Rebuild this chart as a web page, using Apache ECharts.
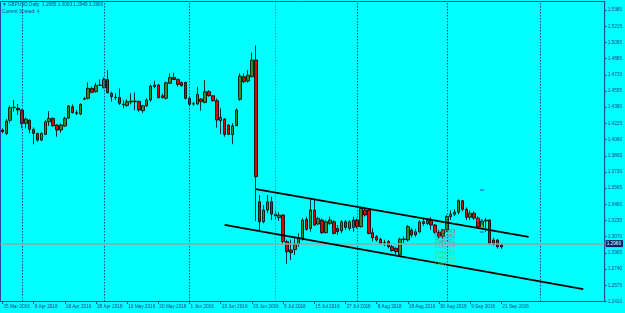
<!DOCTYPE html>
<html><head><meta charset="utf-8">
<script src="https://cdn.jsdelivr.net/npm/echarts@6/dist/echarts.min.js"></script>
<style>html,body{margin:0;padding:0;background:#00ffff}#c{width:625px;height:313px}</style>
</head><body><div id="c"></div>
<script>
const opens = [1.4157,1.4123,1.4256,1.4385,1.4378,1.4361,1.4225,1.4259,1.4164,1.4123,1.4055,1.4113,1.4242,1.4276,1.4208,1.4157,1.4198,1.4279,1.4395,1.4334,1.4320,1.4470,1.4480,1.4582,1.4548,1.4612,1.4588,1.4673,1.4531,1.4493,1.4490,1.4422,1.4408,1.4442,1.4453,1.4449,1.4354,1.4402,1.4463,1.4599,1.4616,1.4507,1.4480,1.4633,1.4694,1.4673,1.4643,1.4643,1.4480,1.4422,1.4422,1.4473,1.4439,1.4548,1.4507,1.4456,1.4252,1.4269,1.4208,1.4110,1.4201,1.4470,1.4700,1.4656,1.4700,1.4871,1.3427,1.3223,1.3342,1.3427,1.3300,1.3265,1.3291,1.3020,1.2935,1.2940,1.2996,1.3060,1.3247,1.3155,1.3342,1.3199,1.3240,1.3111,1.3206,1.3223,1.3155,1.3131,1.3223,1.3155,1.3165,1.3240,1.3172,1.3342,1.3342,1.3111,1.3070,1.3044,1.3003,1.3020,1.2969,1.2952,1.2884,1.3047,1.3037,1.3139,1.3090,1.3120,1.3225,1.3205,1.3235,1.3190,1.3115,1.3075,1.3140,1.3275,1.3300,1.3320,1.3437,1.3349,1.3268,1.3310,1.3260,1.3170,1.3230,1.3240,1.3037,1.3037,1.2985];
const highs = [1.4174,1.4269,1.4408,1.4463,1.4422,1.4371,1.4286,1.4266,1.4184,1.4130,1.4137,1.4259,1.4351,1.4286,1.4215,1.4225,1.4293,1.4412,1.4419,1.4361,1.4429,1.4497,1.4643,1.4599,1.4639,1.4673,1.4694,1.4768,1.4548,1.4531,1.4582,1.4463,1.4470,1.4531,1.4540,1.4456,1.4412,1.4480,1.4622,1.4660,1.4626,1.4531,1.4650,1.4734,1.4741,1.4683,1.4650,1.4650,1.4497,1.4446,1.4599,1.4480,1.4667,1.4565,1.4514,1.4480,1.4378,1.4276,1.4215,1.4228,1.4378,1.4734,1.4734,1.4768,1.4945,1.5018,1.3495,1.3393,1.3495,1.3478,1.3340,1.3320,1.3300,1.3040,1.3043,1.3070,1.3104,1.3257,1.3274,1.3451,1.3444,1.3274,1.3257,1.3240,1.3274,1.3240,1.3189,1.3240,1.3240,1.3240,1.3274,1.3257,1.3376,1.3376,1.3359,1.3155,1.3087,1.3060,1.3040,1.3037,1.2986,1.2969,1.3060,1.3075,1.3190,1.3160,1.3150,1.3240,1.3260,1.3260,1.3270,1.3200,1.3140,1.3150,1.3290,1.3340,1.3350,1.3451,1.3445,1.3370,1.3340,1.3330,1.3280,1.3250,1.3260,1.3250,1.3060,1.3050,1.3003];
const lows = [1.4123,1.4106,1.4225,1.4344,1.4310,1.4174,1.4174,1.4123,1.4011,1.4038,1.4045,1.4106,1.4198,1.4191,1.4089,1.4130,1.4191,1.4273,1.4327,1.4310,1.4310,1.4463,1.4470,1.4531,1.4537,1.4605,1.4582,1.4531,1.4446,1.4463,1.4412,1.4378,1.4395,1.4420,1.4360,1.4344,1.4327,1.4395,1.4446,1.4582,1.4480,1.4480,1.4470,1.4626,1.4667,1.4599,1.4599,1.4470,1.4395,1.4405,1.4412,1.4354,1.4429,1.4497,1.4446,1.4181,1.4116,1.4089,1.4106,1.4012,1.4198,1.4456,1.4633,1.4639,1.4694,1.3229,1.3121,1.3206,1.3310,1.3240,1.3240,1.3230,1.2993,1.2792,1.2833,1.2884,1.2969,1.3030,1.3131,1.3121,1.3179,1.3189,1.3097,1.3104,1.3189,1.3094,1.3087,1.3104,1.3138,1.3131,1.3121,1.3155,1.3165,1.3274,1.3094,1.3020,1.3020,1.2990,1.2975,1.2952,1.2918,1.2884,1.2875,1.3000,1.3020,1.3060,1.3070,1.3105,1.3180,1.3190,1.3140,1.3100,1.3050,1.3050,1.3120,1.3240,1.3280,1.3300,1.3330,1.3240,1.3240,1.3240,1.3160,1.3150,1.3120,1.2990,1.2980,1.2950,1.2945];
const closes = [1.4140,1.4249,1.4385,1.4390,1.4361,1.4225,1.4269,1.4164,1.4123,1.4055,1.4123,1.4242,1.4276,1.4201,1.4157,1.4208,1.4276,1.4402,1.4334,1.4327,1.4419,1.4478,1.4582,1.4541,1.4612,1.4616,1.4673,1.4537,1.4497,1.4487,1.4429,1.4415,1.4446,1.4453,1.4446,1.4361,1.4405,1.4463,1.4605,1.4616,1.4487,1.4487,1.4639,1.4694,1.4673,1.4622,1.4609,1.4480,1.4419,1.4425,1.4520,1.4446,1.4548,1.4507,1.4456,1.4259,1.4286,1.4113,1.4113,1.4200,1.4361,1.4707,1.4650,1.4717,1.4870,1.3682,1.3223,1.3342,1.3427,1.3300,1.3281,1.3290,1.3020,1.2918,1.2908,1.2995,1.3060,1.3240,1.3145,1.3342,1.3189,1.3257,1.3111,1.3223,1.3240,1.3104,1.3121,1.3223,1.3165,1.3223,1.3240,1.3172,1.3359,1.3291,1.3104,1.3060,1.3036,1.3003,1.3010,1.2969,1.2928,1.2918,1.3047,1.3040,1.3173,1.3088,1.3120,1.3220,1.3205,1.3235,1.3190,1.3115,1.3075,1.3140,1.3275,1.3300,1.3320,1.3437,1.3349,1.3268,1.3310,1.3260,1.3170,1.3230,1.3240,1.3003,1.2996,1.2969,1.2966];

const xTickLabels = ["25 Mar 2016","6 Apr 2016","18 Apr 2016","28 Apr 2016","10 May 2016","20 May 2016","1 Jun 2016","13 Jun 2016","23 Jun 2016","5 Jul 2016","15 Jul 2016","27 Jul 2016","8 Aug 2016","18 Aug 2016","30 Aug 2016","9 Sep 2016","21 Sep 2016"];
const yMin = 1.2410, yStep = 0.0165, yMax = 1.5467;
const lastPrice = 1.2966;
const separators = [5, 26, 48, 70, 91, 114, 138];
const channelUpper = [[65, 1.3556], [135, 1.3069]];
const channelLower = [[57, 1.3190], [149, 1.2536]];
const pivotNames = ["Daily R3","Daily R2","Daily R1","Daily PP","Daily S1","Daily S2","Daily S3"];
const pivotPrices = [1.3118, 1.3067, 1.3016, 1.2965, 1.2904, 1.2853, 1.2792];
const pivotColors = ["#d03c3c","#d83c3c","#d84848","#a88c8c","#68c040","#78c038","#98c030"];
const totalSlots = 155;

const months = ['Jan','Feb','Mar','Apr','May','Jun','Jul','Aug','Sep','Oct','Nov','Dec'];
const cats = [];
let d = new Date(Date.UTC(2016, 2, 25));
while (cats.length < totalSlots) {
  const wd = d.getUTCDay();
  if (wd !== 0 && wd !== 6) cats.push(d.getUTCDate() + ' ' + months[d.getUTCMonth()] + ' ' + d.getUTCFullYear());
  d = new Date(d.getTime() + 86400000);
}
const candles = opens.map((o, i) => [o, closes[i], lows[i], highs[i]]);

const FONT = 'Liberation Sans';
const AX = '#1f4aa0';
const TXT = '#1a3a8c';
const isLabelIdx = (i) => i % 8 === 0 && i / 8 < xTickLabels.length;

const option = {
  backgroundColor: '#00ffff',
  animation: false,
  grid: {left: 0.5, right: 19.5, top: 1.5, bottom: 11.5, show: true, borderColor: AX, borderWidth: 1},
  xAxis: {
    type: 'category', data: cats, boundaryGap: true,
    axisLine: {lineStyle: {color: AX, width: 1}},
    axisTick: {show: true, alignWithLabel: true, interval: isLabelIdx, length: 2.5, lineStyle: {color: AX}},
    axisLabel: {interval: isLabelIdx, formatter: (v, i) => xTickLabels[i / 8] || '', align: 'left', margin: 2.5,
      fontSize: 4.7, color: TXT, fontFamily: FONT, padding: [0, 0, 0, 1]},
    splitLine: {show: false}
  },
  yAxis: {
    type: 'value', position: 'right', min: yMin, max: yMax, interval: yStep,
    axisLine: {show: true, lineStyle: {color: AX, width: 1}},
    axisTick: {show: true, length: 2, lineStyle: {color: AX}},
    axisLabel: {margin: 3, fontSize: 4.7, color: TXT, fontFamily: FONT, showMaxLabel: false,
      formatter: (v) => { const k = (v - yMin) / yStep; return Math.abs(k - Math.round(k)) < 1e-6 ? v.toFixed(4) : ''; }},
    splitLine: {show: false}
  },
  graphic: [
    {type: 'text', left: 2, top: 2.5, style: {text: '\u25BC GBPUSD,Daily  1.2985 1.3003 1.2945 1.2966', fontSize: 4.7, fill: TXT, fontFamily: FONT}},
    {type: 'text', left: 2, top: 9, style: {text: 'Current Spread: 4', fontSize: 4.7, fill: TXT, fontFamily: FONT}}
  ],
  series: [
    {
      type: 'candlestick', data: candles, barWidth: 3,
      itemStyle: {color: '#348a2a', color0: '#e00000', borderColor: '#000000', borderColor0: '#000000', borderColorDoji: '#000000', borderWidth: 0.8},
      markLine: {
        silent: true, symbol: 'none', animation: false,
        data: [
          ...separators.map((s, k) => ({xAxis: s, label: {show: false},
            lineStyle: {color: k === 3 ? '#4a86c8' : '#1f3c96', type: [1.5, 1.5], width: 1}})),
          {yAxis: lastPrice, lineStyle: {color: '#9aa6a6', type: 'solid', width: 1.5},
            label: {show: true, position: 'end', distance: 1, formatter: lastPrice.toFixed(4), color: '#ffffff',
              backgroundColor: '#0a246a', padding: [1, 2, 1, 1], fontSize: 4.7, fontFamily: FONT}},
          [{coord: channelUpper[0]}, {coord: channelUpper[1]}],
          [{coord: channelLower[0]}, {coord: channelLower[1]}]
        ].map((it) => Array.isArray(it) ? [Object.assign({lineStyle: {color: '#000', width: 1.8, type: 'solid'}, label: {show: false}}, it[0]), it[1]] : it)
      }
    },
    {
      type: 'scatter', symbolSize: 0, silent: true, z: 5,
      data: pivotNames.map((n, k) => ({value: [111, pivotPrices[k]], name: n,
        label: {show: true, position: 'right', distance: 0, formatter: n, color: pivotColors[k], fontSize: 5.3, fontFamily: FONT}}))
    },
    {
      type: 'scatter', silent: true,
      data: [
        {value: [123, 1.3546], symbol: 'rect', symbolSize: [4, 1.5], itemStyle: {color: '#2060d0'}},
        {value: [123, 1.3118], symbol: 'rect', symbolSize: [4, 1.5], itemStyle: {color: '#2060d0'}},
        {value: [122, 1.3240], symbol: 'rect', symbolSize: [3, 3], itemStyle: {color: '#e02020'}},
        {value: [123, 1.3232], symbol: 'rect', symbolSize: [2, 3], itemStyle: {color: '#2040c0'}},
        {value: [123, 1.3180], symbol: 'triangle', symbolSize: [3, 3], itemStyle: {color: '#f0d020'}}
      ]
    }
  ]
};
echarts.init(document.getElementById('c'), null, {renderer: 'canvas'}).setOption(option);
</script></body></html>
